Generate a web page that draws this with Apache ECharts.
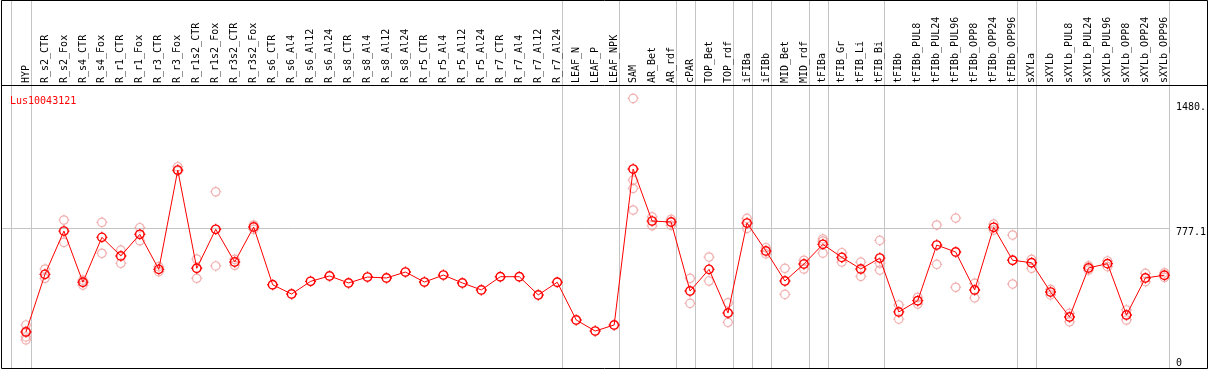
<!DOCTYPE html>
<html>
<head>
<meta charset="utf-8">
<script src="https://cdn.jsdelivr.net/npm/echarts@6/dist/echarts.min.js"></script>
<style>
html,body{margin:0;padding:0;background:#fff;}
#chart{width:1209px;height:370px;}
</style>
</head>
<body>
<div id="chart"></div>
<script>
const geneTitle = 'Lus10043121';
const categories = ['HYP','R_s2_CTR','R_s2_Fox','R_s4_CTR','R_s4_Fox','R_r1_CTR','R_r1_Fox','R_r3_CTR','R_r3_Fox','R_r1s2_CTR','R_r1s2_Fox','R_r3s2_CTR','R_r3s2_Fox','R_s6_CTR','R_s6_Al4','R_s6_Al12','R_s6_Al24','R_s8_CTR','R_s8_Al4','R_s8_Al12','R_s8_Al24','R_r5_CTR','R_r5_Al4','R_r5_Al12','R_r5_Al24','R_r7_CTR','R_r7_Al4','R_r7_Al12','R_r7_Al24','LEAF_N','LEAF_P','LEAF_NPK','SAM','AR_Bet','AR_rdf','cPAR','TOP_Bet','TOP_rdf','iFIBa','iFIBb','MID_Bet','MID_rdf','tFIBa','tFIB_Gr','tFIB_Li','tFIB_Bi','tFIBb','tFIBb_PUL8','tFIBb_PUL24','tFIBb_PUL96','tFIBb_OPP8','tFIBb_OPP24','tFIBb_OPP96','sXYLa','sXYLb','sXYLb_PUL8','sXYLb_PUL24','sXYLb_PUL96','sXYLb_OPP8','sXYLb_OPP24','sXYLb_OPP96'];
const means = [196,518,760,474,725,621,742,546,1101,552,770,587,783,460,408,479,509,470,503,498,531,475,514,470,431,505,505,403,474,263,201,235,1107,816,811,425,546,302,805,649,481,576,686,613,548,609,308,371,682,643,431,781,597,583,419,280,554,578,291,498,513];
const replicates = [[235,200,168,152],[548,496],[822,697],[486,458],[809,636],[654,580],[779,706],[561,533],[1120,1097],[604,496],[980,565],[602,569],[794,770],[],[],[],[],[],[],[],[],[],[],[],[],[],[],[],[],[],[],[],[1502,1045,999,878],[840,790],[826,792],[496,356],[615,481],[359,250],[831,775],[667,633],[552,406],[597,548],[716,704,637],[639,587],[587,507],[708,580,542],[347,268],[390,352],[794,574],[833,446],[468,387],[799,766],[738,464],[602,552],[434,403],[300,253],[566,542],[593,561],[319,263],[524,477],[527,501]];
const separatorsAfter = [-1,0,28,31,34,35,37,38,39,41,42,45,52,53,60];
const refValue = 777.1;
const yLabelValues = [0, 777.1, 1480];
const yLabelTexts = ['0', '777.1', '1480.'];

const markerPath = 'path://M6,0L6,1.4M6,10.6L6,12M0,6L1.4,6M10.6,6L12,6' +
  'M10.6,6C10.6,8.54 8.54,10.6 6,10.6C3.46,10.6 1.4,8.54 1.4,6C1.4,3.46 3.46,1.4 6,1.4C8.54,1.4 10.6,3.46 10.6,6Z';
const FONT = 'DejaVu Sans Mono';

const repData = [];
replicates.forEach((arr, i) => arr.forEach(v => repData.push([i, v])));

const chart = echarts.init(document.getElementById('chart'), null, {renderer: 'canvas'});
chart.setOption({
  animation: false,
  backgroundColor: '#fff',
  title: {
    text: geneTitle, left: 5, top: 91,
    textStyle: {color: '#ff0000', fontFamily: FONT, fontSize: 10, fontWeight: 'normal'}
  },
  grid: {left: 16.5, right: 33.5, top: 85, bottom: 3, containLabel: false},
  xAxis: {
    type: 'category', data: categories, position: 'top', boundaryGap: true,
    axisLine: {show: false}, axisTick: {show: false}, splitLine: {show: false},
    axisLabel: {rotate: 90, margin: 2, interval: 0, color: '#000', fontFamily: FONT, fontSize: 10}
  },
  yAxis: {
    type: 'value', position: 'right', min: 0, max: 1577,
    axisLine: {show: false}, axisTick: {show: false}, splitLine: {show: false},
    axisLabel: {
      customValues: yLabelValues, margin: 2, color: '#000', fontFamily: FONT, fontSize: 10,
      formatter: function (v) {
        const k = yLabelValues.indexOf(v);
        const t = k >= 0 ? yLabelTexts[k] : String(v);
        if (k === 0) return '{b|' + t + '}';
        if (k === 2) return '{t|' + t + '}';
        return '{m|' + t + '}';
      },
      rich: {
        b: {padding: [0, 0, 8, 0], fontFamily: FONT, fontSize: 10, color: '#000'},
        m: {padding: [8, 0, 0, 0], fontFamily: FONT, fontSize: 10, color: '#000'},
        t: {padding: [10, 0, 0, 0], fontFamily: FONT, fontSize: 10, color: '#000'}
      }
    }
  },
  graphic: [
    {type: 'rect', z: 100, shape: {x: 1.5, y: 0.5, width: 1206, height: 368}, style: {fill: null, stroke: '#000', lineWidth: 1}},
    {type: 'line', z: 100, shape: {x1: 1, y1: 85.5, x2: 1208, y2: 85.5}, style: {stroke: '#000', lineWidth: 1}}
  ],
  series: [
    {
      type: 'custom', z: 0, silent: true, clip: false,
      data: separatorsAfter.map(v => [v, 0]),
      renderItem: function (params, api) {
        const idx = api.value(0);
        const band = api.size([1, 0])[0];
        const x0 = api.coord([0, 0])[0];
        const off = idx < 0 ? 0.19 : 0.247;
        const x = Math.round(x0 + (idx + off) * band) + 0.5;
        return {type: 'line', shape: {x1: x, y1: 0, x2: x, y2: 368}, style: {stroke: '#c4c4c4', lineWidth: 1}};
      }
    },
    {
      type: 'custom', z: 0, silent: true, clip: false,
      data: [[0, refValue]],
      renderItem: function (params, api) {
        const band = api.size([1, 0])[0];
        const x0 = api.coord([0, 0])[0];
        const y = Math.round(api.coord([0, api.value(1)])[1]) + 0.5;
        const x2 = x0 + (categories.length - 1 + 0.247) * band;
        return {type: 'line', shape: {x1: 1.5, y1: y, x2: x2, y2: y}, style: {stroke: '#c4c4c4', lineWidth: 1}};
      }
    },
    {
      type: 'scatter', z: 2, silent: true,
      data: repData,
      symbol: markerPath, symbolSize: 11,
      itemStyle: {color: 'rgba(0,0,0,0)', borderColor: '#ee9a9a', borderWidth: 1.2}
    },
    {
      type: 'line', z: 3, silent: true,
      data: means,
      symbol: markerPath, symbolSize: 11, showAllSymbol: true,
      lineStyle: {color: '#ff0000', width: 1},
      itemStyle: {color: 'rgba(0,0,0,0)', borderColor: '#ff0000', borderWidth: 1.4}
    }
  ]
});
</script>
</body>
</html>
